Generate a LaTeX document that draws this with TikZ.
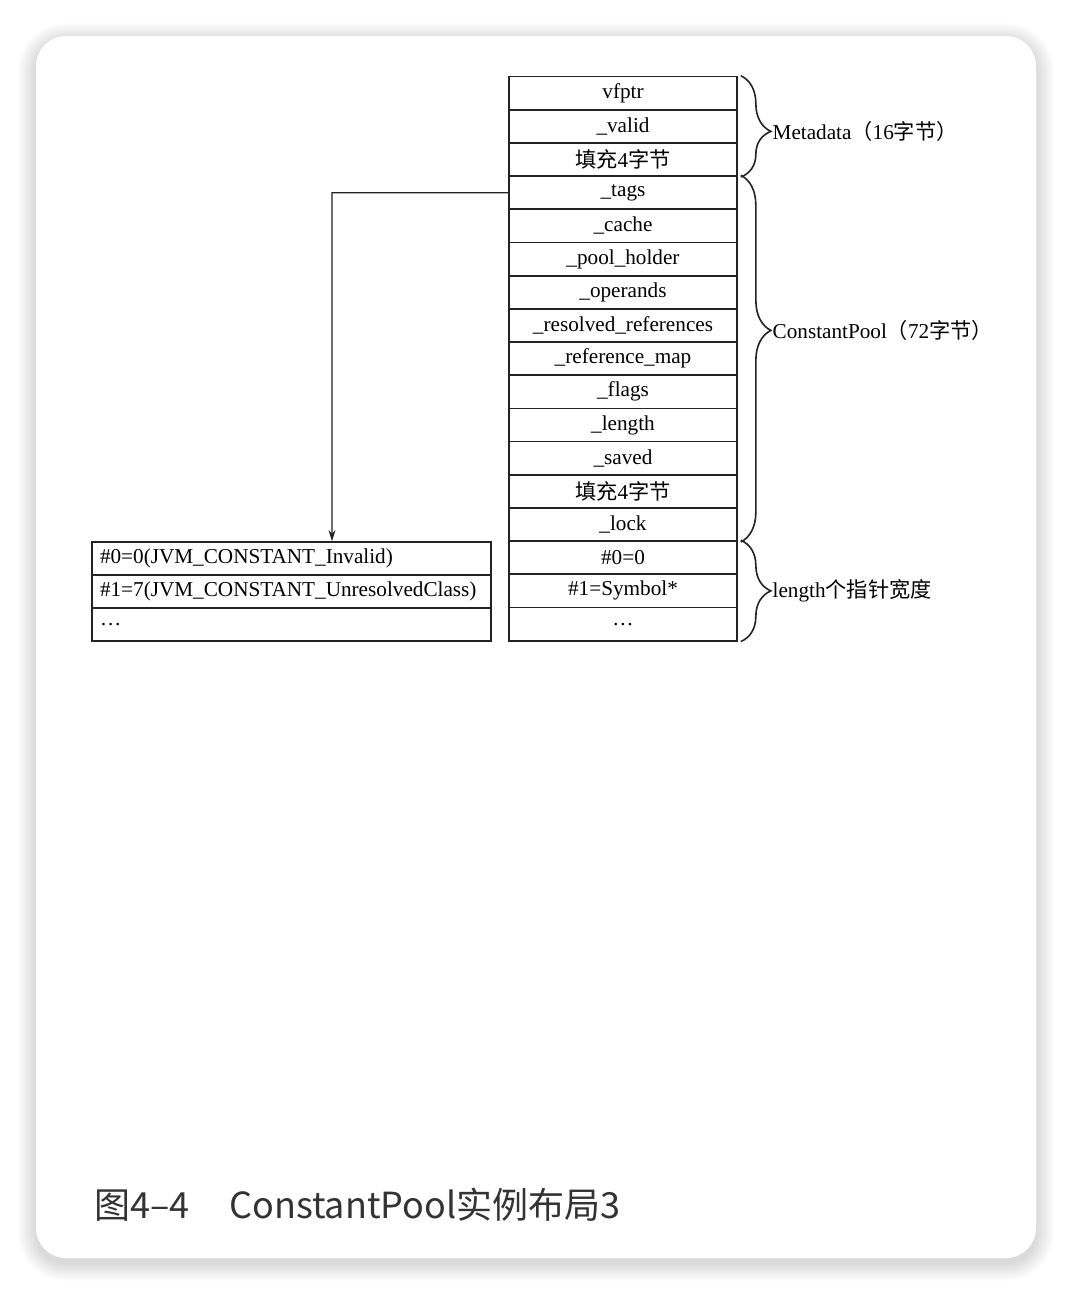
\documentclass[tikz,border=0pt]{standalone}
\usepackage{fontspec}
\setmainfont{Liberation Serif}
\newfontfamily\cjk{Noto Sans CJK SC}
\usepackage{tikz}
\usetikzlibrary{arrows.meta,decorations.pathreplacing,positioning}
\definecolor{CaptionGray}{RGB}{51,51,51}
\definecolor{LayoutLine}{RGB}{35,35,35}
\newcommand\padtext{{\cjk 填充}4{\cjk 字节}}

\begin{document}
\begin{tikzpicture}[x=0.5pt,y=-0.5pt,
  cell/.style={draw=LayoutLine,line width=0.85pt,minimum width=114pt,minimum height=16.59pt,inner sep=0pt,font=\fontsize{10.6}{12}\selectfont},
  lcell/.style={draw=LayoutLine,line width=0.85pt,text width=191.5pt,minimum height=16.5pt,inner xsep=4pt,inner ysep=0pt,align=left,font=\fontsize{10.6}{12}\selectfont},
  brc/.style={draw=LayoutLine,decorate,decoration={brace,amplitude=15pt,aspect=#1},line width=0.8pt},
  lbl/.style={pos=#1,right=15pt,inner sep=0.5pt,font=\fontsize{10.6}{12}\selectfont},
  arr/.style={draw=LayoutLine,line width=0.6pt,-{Stealth[length=5.5pt,width=3.5pt]}}]
    \useasboundingbox (0,0) rectangle (1072,1294);
    % card with soft shadow
    \foreach \s in {1,...,18} {
       \fill[black,opacity=0.008,rounded corners=15pt+\s*0.5pt] (36-\s,41-\s) rectangle (1036+\s,1263+\s);
    }
    \fill[white,rounded corners=15pt] (36,36) rectangle (1036,1258);
    % ConstantPool fields
    \foreach \i/\t in %
    {0/vfptr,1/\_valid,2/\padtext,3/\_tags,4/\_cache,5/\_pool\_holder,6/\_operands,7/\_resolved\_references,8/\_reference\_map,9/\_flags,10/\_length,11/\_saved,12/\padtext,13/\_lock,14/\#0=0,15/\#1=Symbol*,16/\ldots} {
       \node[cell] (c\i) at (623,93.2+33.18*\i) {\t};
    }
    % tags array
    \foreach \i/\t in %
    {0/{\#0=0(JVM\_CONSTANT\_Invalid)},1/{\#1=7(JVM\_CONSTANT\_UnresolvedClass)},2/\ldots} {
       \node[lcell] (e\i) at (291.5,558.5+33*\i) {\t};
    }
    \coordinate (turn) at (332,192.7);
    \draw[arr] (c3.west) -- (turn) -- (turn |- e0.north);
    \draw[brc=0.55] ([xshift=1.5pt]c0.north east) -- ([xshift=1.5pt]c2.south east)
       node[lbl=0.55] {Metadata{\cjk （}16{\cjk 字节）}};
    \draw[brc=0.423] ([xshift=1.5pt]c3.north east) -- ([xshift=1.5pt]c13.south east)
       node[lbl=0.423] {ConstantPool{\cjk （}72{\cjk 字节）}};
    \draw[brc=0.5] ([xshift=1.5pt]c14.north east) -- ([xshift=1.5pt]c16.south east)
       node[lbl=0.5] {length{\cjk 个指针宽度}};
    \node[anchor=base west,inner sep=0pt,text=CaptionGray,font=\cjk\fontsize{18}{20}\selectfont] (cap) at (94,1218)
       {图4–4\hspace{1.1em}ConstantPool实例布局3};
\end{tikzpicture}
\end{document}
